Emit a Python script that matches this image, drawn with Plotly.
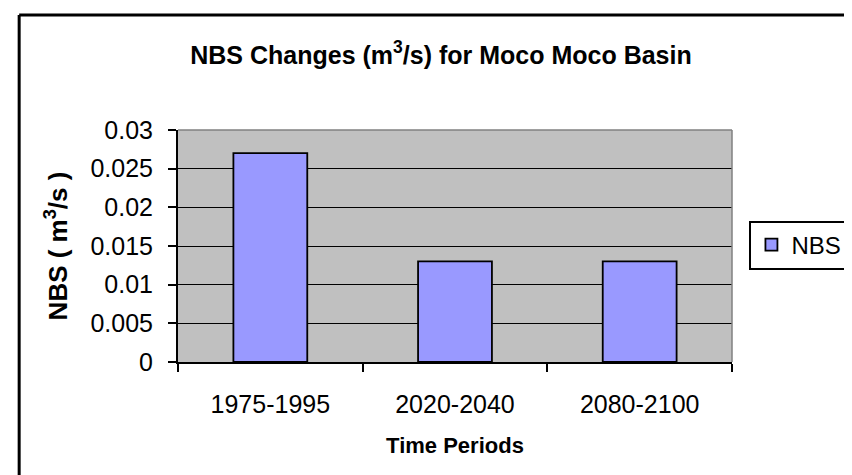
import plotly.graph_objects as go

categories = ["1975-1995", "2020-2040", "2080-2100"]
nbs_values = [0.027, 0.013, 0.013]
y_tick_vals = [0, 0.005, 0.01, 0.015, 0.02, 0.025, 0.03]
y_tick_text = ["0", "0.005", "0.01", "0.015", "0.02", "0.025", "0.03"]

W, H = 852, 475
L, R, T, B = 170, 742, 122, 354

def px(x):
    return (x - L) / (R - L)

def py(y):
    return (B - y) / (B - T)

FONT = "Arial, Liberation Sans, sans-serif"
FS = 25

fig = go.Figure()
fig.add_trace(go.Bar(
    x=categories, y=nbs_values, name="NBS",
    marker=dict(color="#9999FF", line=dict(color="black", width=1.8)),
))

fig.update_layout(
    width=W, height=H,
    margin=dict(l=L, r=W - R, t=T, b=H - B, pad=0),
    paper_bgcolor="white",
    plot_bgcolor="#C0C0C0",
    font=dict(family=FONT, size=FS, color="black"),
    bargap=0.6,
    title=dict(
        text="<b>NBS Changes (m<sup>3</sup>/s) for Moco Moco Basin</b>",
        x=433 / W, xref="container", xanchor="center",
        y=1 - 47 / H, yref="container", yanchor="middle",
        font=dict(family=FONT, size=25, color="black"),
    ),
    showlegend=True,
    legend=dict(
        x=px(760), xanchor="left", y=py(237), yanchor="middle",
        bordercolor="black", borderwidth=2, bgcolor="white",
        font=dict(family=FONT, size=24),
        itemwidth=30,
    ),
    xaxis=dict(
        type="category",
        showline=True, linecolor="black", linewidth=2,
        ticks="outside", ticklen=8, tickwidth=2, tickcolor="black",
        tickson="boundaries",
        ticklabelstandoff=19,
        showgrid=False,
        tickfont=dict(family=FONT, size=FS),
        title=dict(text="<b>Time Periods</b>", font=dict(family=FONT, size=22), standoff=21),
    ),
    yaxis=dict(
        range=[0, 0.03],
        tickvals=y_tick_vals, ticktext=y_tick_text,
        showline=True, linecolor="black", linewidth=2,
        ticks="outside", ticklen=8, tickwidth=2, tickcolor="black",
        ticklabelstandoff=10,
        showgrid=True, gridcolor="black", gridwidth=1,
        zeroline=False,
        tickfont=dict(family=FONT, size=FS),
        title=dict(text="<b>NBS ( m<sup>3</sup>/s )</b>", font=dict(family=FONT, size=26), standoff=15),
    ),
)

# plot-area gray border (top and right)
fig.add_shape(type="line", xref="paper", yref="paper", x0=0, x1=1, y0=1, y1=1,
              line=dict(color="#808080", width=1.5), layer="above")
fig.add_shape(type="line", xref="paper", yref="paper", x0=1, x1=1, y0=0, y1=1,
              line=dict(color="#808080", width=1.5), layer="above")

# outer chart frame (left and top edges visible)
fig.add_shape(type="line", xref="paper", yref="paper",
              x0=px(6), x1=px(6), y0=py(7), y1=py(H + 10),
              line=dict(color="black", width=3), layer="above")
fig.add_shape(type="line", xref="paper", yref="paper",
              x0=px(6), x1=px(W + 10), y0=py(7), y1=py(7),
              line=dict(color="black", width=3), layer="above")

fig.write_html("out.html")
